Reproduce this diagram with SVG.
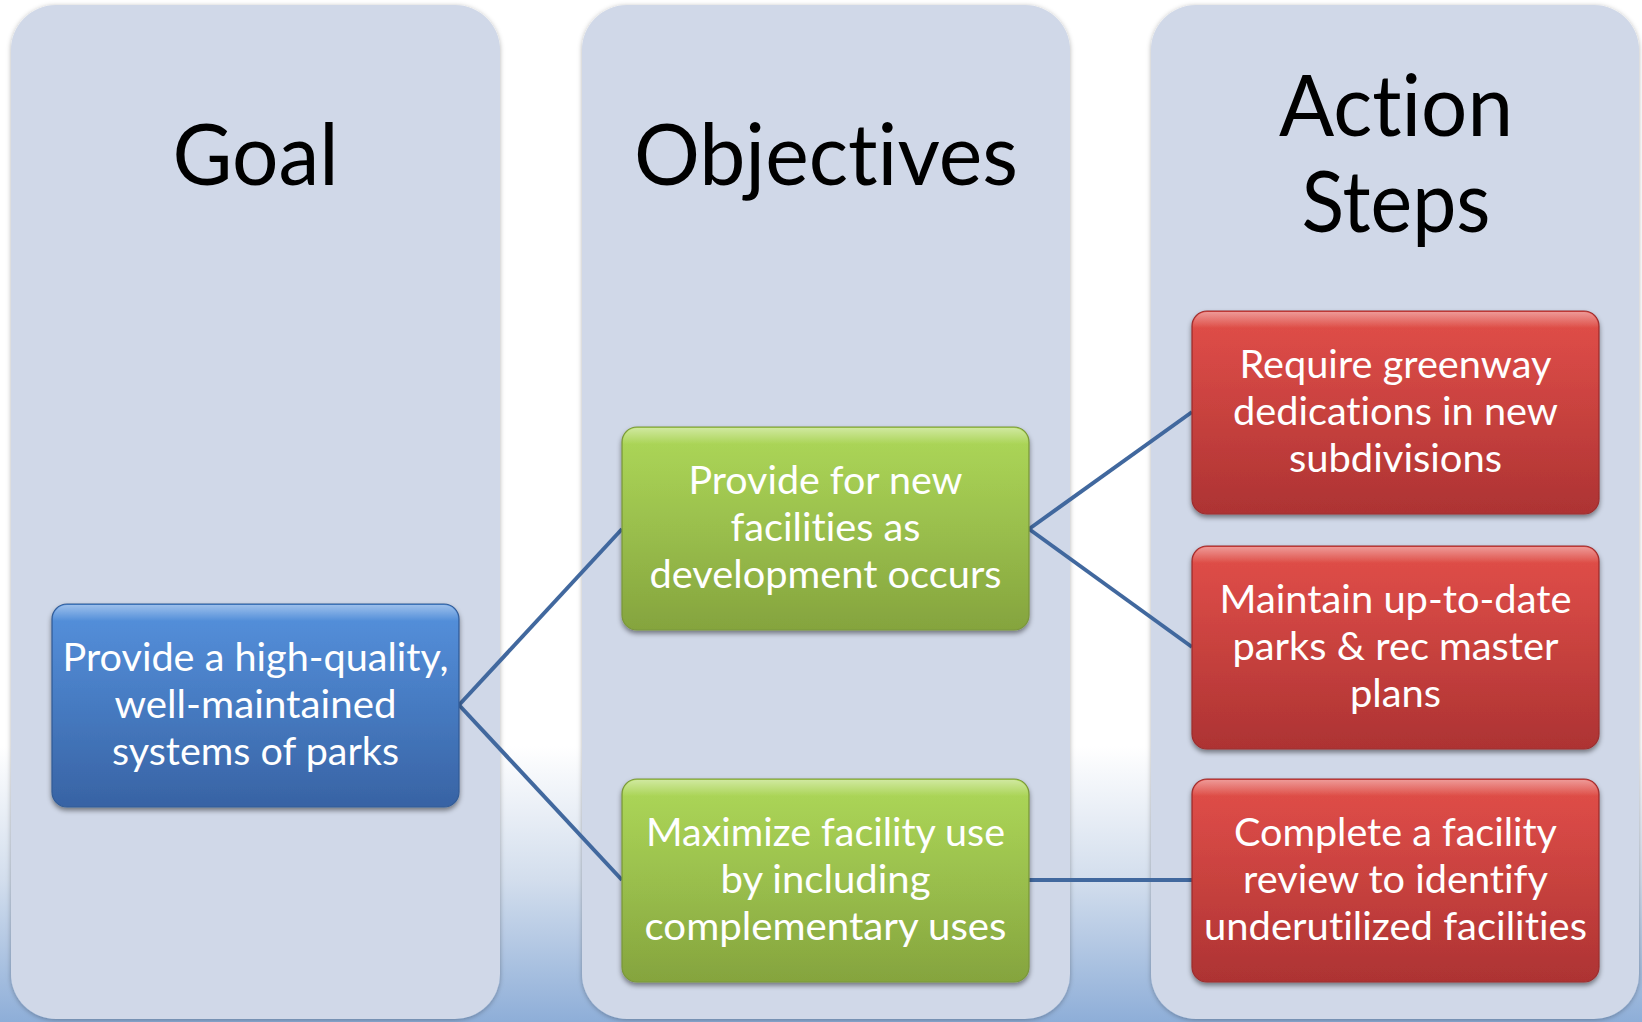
<svg xmlns="http://www.w3.org/2000/svg" width="1642" height="1022" viewBox="0 0 1642 1022">
<defs>
<linearGradient id="bg" x1="0" y1="0" x2="0" y2="1">
<stop offset="0" stop-color="#ffffff"/>
<stop offset="0.73" stop-color="#ffffff"/>
<stop offset="0.86" stop-color="#d3deed"/>
<stop offset="1" stop-color="#8eaed8"/>
</linearGradient>
<linearGradient id="gBlue" x1="0" y1="0" x2="0" y2="1">
<stop offset="0" stop-color="#4b8bdb"/>
<stop offset="1" stop-color="#3863a4"/>
</linearGradient>
<linearGradient id="gGreen" x1="0" y1="0" x2="0" y2="1">
<stop offset="0" stop-color="#a9d650"/>
<stop offset="1" stop-color="#85a43e"/>
</linearGradient>
<linearGradient id="gRed" x1="0" y1="0" x2="0" y2="1">
<stop offset="0" stop-color="#e0453f"/>
<stop offset="1" stop-color="#ad3333"/>
</linearGradient>
<linearGradient id="shine" x1="0" y1="0" x2="0" y2="1">
<stop offset="0" stop-color="#ffffff" stop-opacity="0.45"/>
<stop offset="0.08" stop-color="#ffffff" stop-opacity="0.05"/>
<stop offset="1" stop-color="#ffffff" stop-opacity="0"/>
</linearGradient>
<filter id="colShadow" x="-5%" y="-5%" width="110%" height="110%">
<feDropShadow dx="0" dy="1" stdDeviation="2.5" flood-color="#000" flood-opacity="0.3"/>
</filter>
<filter id="boxShadow" x="-5%" y="-5%" width="110%" height="115%">
<feDropShadow dx="0" dy="3" stdDeviation="2.5" flood-color="#000" flood-opacity="0.45"/>
</filter>
</defs>
<style>
.col{fill:#d0d8e8;filter:url(#colShadow);}
.head{font-family:Lato,"Open Sans",sans-serif;font-size:85px;fill:#000;text-anchor:middle;font-variant-ligatures:none;}
.box{filter:url(#boxShadow);stroke-width:1.2;}
.blue{fill:url(#gBlue);stroke:#335c96;}
.green{fill:url(#gGreen);stroke:#7a973a;}
.red{fill:url(#gRed);stroke:#9c2e2e;}
.shine{fill:url(#shine);}
.lbl{font-family:Lato,"Open Sans",sans-serif;font-size:39px;fill:#fff;text-anchor:middle;font-variant-ligatures:none;}
.conn{stroke:#41689e;stroke-width:4;fill:none;}
</style>
<rect x="0" y="0" width="1642" height="1022" fill="url(#bg)"/>

<g id="col-goal">
<rect class="col" x="11" y="5" width="489" height="1014" rx="45"/>
<text class="head" x="255.5" y="185" textLength="166" lengthAdjust="spacingAndGlyphs">Goal</text>
</g>
<g id="col-objectives">
<rect class="col" x="582" y="5" width="488" height="1014" rx="45"/>
<text class="head" x="826" y="185" textLength="384" lengthAdjust="spacingAndGlyphs">Objectives</text>
</g>
<g id="col-action">
<rect class="col" x="1151" y="5" width="488" height="1014" rx="45"/>
<text class="head" x="1396" y="136" textLength="234" lengthAdjust="spacingAndGlyphs">Action</text>
<text class="head" x="1396" y="232" textLength="189" lengthAdjust="spacingAndGlyphs">Steps</text>
</g>

<g id="connectors">
<line class="conn" x1="459" y1="705" x2="622" y2="529"/>
<line class="conn" x1="459" y1="705" x2="622" y2="880"/>
<line class="conn" x1="1029" y1="529" x2="1192" y2="412"/>
<line class="conn" x1="1029" y1="529" x2="1192" y2="647"/>
<line class="conn" x1="1029" y1="880" x2="1192" y2="880"/>
</g>

<g id="goal-box">
<rect class="box blue" x="52" y="604" width="407" height="203" rx="15"/>
<rect class="shine" x="53" y="605" width="405" height="201" rx="14"/>
<text class="lbl" x="255.5" y="671" textLength="386" lengthAdjust="spacingAndGlyphs">Provide a high-quality,</text>
<text class="lbl" x="255.5" y="718" textLength="282" lengthAdjust="spacingAndGlyphs">well-maintained</text>
<text class="lbl" x="255.5" y="765" textLength="287" lengthAdjust="spacingAndGlyphs">systems of parks</text>
</g>

<g id="obj-1">
<rect class="box green" x="622" y="427" width="407" height="203" rx="15"/>
<rect class="shine" x="623" y="428" width="405" height="201" rx="14"/>
<text class="lbl" x="825.5" y="494" textLength="274" lengthAdjust="spacingAndGlyphs">Provide for new</text>
<text class="lbl" x="825.5" y="541" textLength="190" lengthAdjust="spacingAndGlyphs">facilities as</text>
<text class="lbl" x="825.5" y="588" textLength="352" lengthAdjust="spacingAndGlyphs">development occurs</text>
</g>

<g id="obj-2">
<rect class="box green" x="622" y="779" width="407" height="203" rx="15"/>
<rect class="shine" x="623" y="780" width="405" height="201" rx="14"/>
<text class="lbl" x="825.5" y="846" textLength="359" lengthAdjust="spacingAndGlyphs">Maximize facility use</text>
<text class="lbl" x="825.5" y="893" textLength="210" lengthAdjust="spacingAndGlyphs">by including</text>
<text class="lbl" x="825.5" y="940" textLength="362" lengthAdjust="spacingAndGlyphs">complementary uses</text>
</g>

<g id="act-1">
<rect class="box red" x="1192" y="311" width="407" height="203" rx="15"/>
<rect class="shine" x="1193" y="312" width="405" height="201" rx="14"/>
<text class="lbl" x="1395.5" y="378" textLength="312" lengthAdjust="spacingAndGlyphs">Require greenway</text>
<text class="lbl" x="1395.5" y="425" textLength="325" lengthAdjust="spacingAndGlyphs">dedications in new</text>
<text class="lbl" x="1395.5" y="472" textLength="213" lengthAdjust="spacingAndGlyphs">subdivisions</text>
</g>

<g id="act-2">
<rect class="box red" x="1192" y="546" width="407" height="203" rx="15"/>
<rect class="shine" x="1193" y="547" width="405" height="201" rx="14"/>
<text class="lbl" x="1395.5" y="613" textLength="352" lengthAdjust="spacingAndGlyphs">Maintain up-to-date</text>
<text class="lbl" x="1395.5" y="660" textLength="326" lengthAdjust="spacingAndGlyphs">parks &amp; rec master</text>
<text class="lbl" x="1395.5" y="707" textLength="91" lengthAdjust="spacingAndGlyphs">plans</text>
</g>

<g id="act-3">
<rect class="box red" x="1192" y="779" width="407" height="203" rx="15"/>
<rect class="shine" x="1193" y="780" width="405" height="201" rx="14"/>
<text class="lbl" x="1395.5" y="846" textLength="323" lengthAdjust="spacingAndGlyphs">Complete a facility</text>
<text class="lbl" x="1395.5" y="893" textLength="305" lengthAdjust="spacingAndGlyphs">review to identify</text>
<text class="lbl" x="1395.5" y="940" textLength="383" lengthAdjust="spacingAndGlyphs">underutilized facilities</text>
</g>
</svg>
